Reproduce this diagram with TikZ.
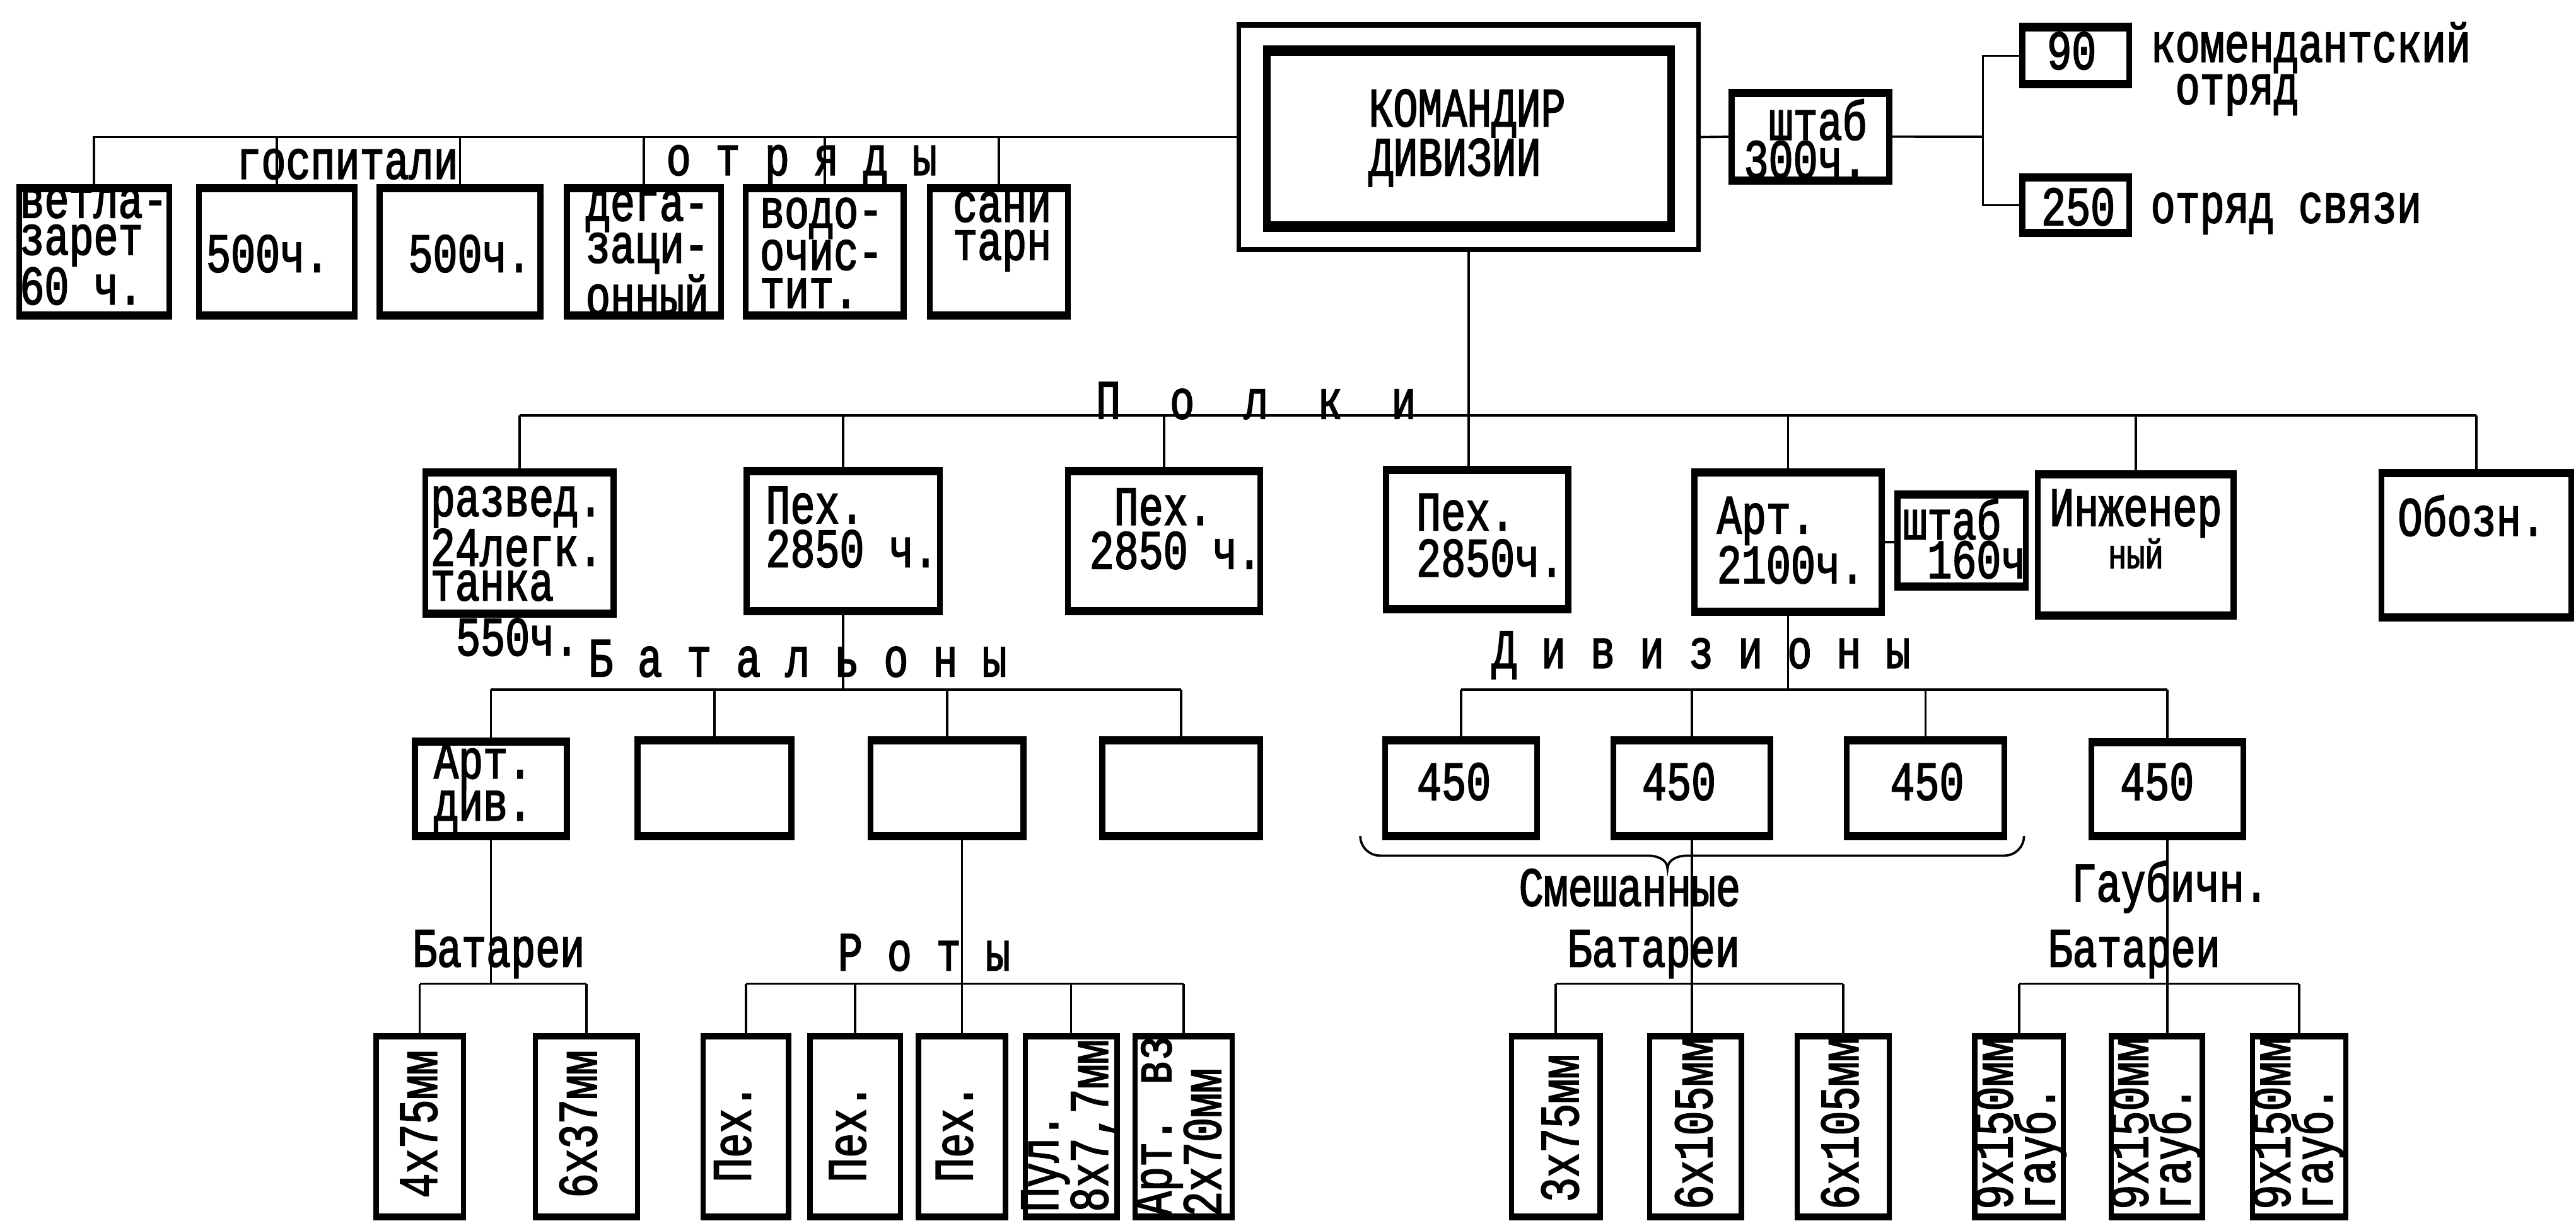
\documentclass[tikz,border=0pt]{standalone}
\usepackage{fontspec}
\newfontfamily\tw[FakeStretch=0.74,FakeBold=2]{Liberation Mono}
\usetikzlibrary{fit}
\tikzset{
  frame/.style n args={4}{draw, inner sep=0pt, outer sep=0pt, line width=#2, fit={#1},
    append after command={
      (\tikzlastnode.north west) edge[line width=#3, shorten <=#4, shorten >=#4] (\tikzlastnode.north east)
      (\tikzlastnode.south west) edge[line width=#3, shorten <=#4, shorten >=#4] (\tikzlastnode.south east)}},
  bx/.style={frame={#1}{1.8mm}{2.5mm}{-0.9mm}},
  rbx/.style={frame={#1}{1.6mm}{2.0mm}{-0.8mm}},
  obx/.style={frame={#1}{1.4mm}{1.7mm}{-0.7mm}},
  ibx/.style={frame={#1}{2.3mm}{3.2mm}{-1.15mm}},
  ln/.style={line width=0.7mm},
  tx/.style={font=\tw\fontsize{48pt}{#1}\selectfont, inner sep=0pt, align=left},
  tx/.default=38pt,
}
\newcommand\mybox[3]{\node[bx={#2 #3}] (#1) {};}
\newcommand\myrbox[3]{\node[rbx={#2 #3}] (#1) {};}
\begin{document}
\begin{tikzpicture}[x=0.5mm,y=-0.5mm]
\useasboundingbox[fill=white] (0,0) rectangle (1568,743.5);

% ---------- top row ----------
\mybox{vet}{(11.6,114.5)}{(103,192)}
\mybox{hosp1}{(121,114.5)}{(216,192)}
\mybox{hosp2}{(231,114.5)}{(329,192)}
\mybox{deg}{(345,114.5)}{(439,192)}
\mybox{vod}{(454,114.5)}{(550,192)}
\mybox{san}{(566,114.5)}{(650,192)}

\node[obx={(754,15) (1034,152)}] (cmdo) {};
\node[ibx={(771,31) (1017,138)}] (cmd) {};
\mybox{sh}{(1054,56.5)}{(1150,110)}
\mybox{b90}{(1231,16.5)}{(1296,51.4)}
\mybox{b250}{(1231,108)}{(1296,142)}
\coordinate (j) at (1207,83.3);

\draw[ln] (vet.north) |- (cmdo.west);
\foreach \n in {hosp1,hosp2,deg,vod,san} \draw[ln] (\n.north) -- (\n.north |- cmdo.west);
\draw[ln] (cmdo.east) -- (sh.west);
\draw[ln] (sh.east) -- (j);
\draw[ln] (b90.west) -| (j) |- (b250.west);

\node[tx=32pt] (tvet) at (57,150) {ветла-\\зарет\\60 ч.};
\node[tx] (th1) at (163,154.5) {500ч.};
\node[tx] (th2) at (286,154.5) {500ч.};
\node[tx=33pt] (tdeg) at (394,154) {дега-\\заци-\\онный};
\node[tx=33pt] (tvod) at (500,154) {водо-\\очис-\\тит.};
\node[tx=33pt] (tsan) at (610,141) {сани\\тарн};
\node[tx=35pt] (tcmd) at (893,84) {КОМАНДИР\\ДИВИЗИИ};
\node[tx=33pt, align=right] (tsh) at (1099,84.5) {штаб\\300ч.};
\node[tx] (t90) at (1261,31) {90};
\node[tx] (t250) at (1265,126) {250};
\node[tx=30pt, anchor=west] (tkom) at (1309,42) {комендантский\\\hphantom{к}отряд};
\node[tx, anchor=west] (tsv) at (1309,130) {отряд связи};
\node[tx] (lhosp) at (211.5,100) {госпитали};
\node[tx] (lotr) at (488,101) {о т р я д ы};

% ---------- regiments ----------
\mybox{rz}{(259,287.5)}{(373.5,373.5)}
\mybox{p1}{(454.5,287)}{(572,372)}
\mybox{p2}{(650,287)}{(767,372)}
\mybox{p3}{(843.7,286)}{(954.6,371)}
\mybox{art}{(1031.4,287.5)}{(1145.4,372.7)}
\mybox{sh2}{(1155,301)}{(1233,357)}
\mybox{inz}{(1240.4,289)}{(1359.5,375)}
\mybox{ob}{(1449.5,288)}{(1565,376)}

\coordinate (pl) at (0,253);
\draw[ln] (cmdo.south) -- (cmdo.south |- p3.north);
\draw[ln] (rz.north |- pl) -- (ob.north |- pl);
\foreach \n in {rz,p1,p2,art,inz,ob} \draw[ln] (\n.north) -- (\n.north |- pl);
\draw[ln] (art.east) -- (art.east -| sh2.west);

\node[tx, anchor=west] (lpol) at (667,244) {П~~о~~л~~к~~и};
\node[tx=30pt, anchor=west] (trz) at (262,331) {развед.\\24легк.\\танка};
\node[tx] (t550) at (315,388) {550ч.};
\node[tx, anchor=west] (tp1) at (466,321) {Пех.\\2850 ч.};
\node[tx, anchor=west] (tp2) at (663,322) {\hphantom{2}Пех.\\2850 ч.};
\node[tx=40pt, anchor=west] (tp3) at (862,326) {Пех.\\2850ч.};
\node[tx=36pt, anchor=west] (tart) at (1045,329) {Арт.\\2100ч.};
\node[tx=29pt, anchor=west] (tsh2) at (1158,328) {штаб\\\hphantom{ш}160ч};
\node[tx=28pt, align=center] (tinz) at (1300,322) {Инженер\\{\fontsize{36pt}{28pt}\selectfont ный}};
\node[tx] (tob) at (1504.5,314) {Обозн.};

% ---------- battalions / divisions ----------
\mybox{b1}{(252.6,451.5)}{(345,509)}
\mybox{b2}{(388,451)}{(481.7,509)}
\mybox{b3}{(530,451)}{(623,509)}
\mybox{b4}{(671,451)}{(767,509)}
\mybox{d1}{(843,451)}{(935.5,509)}
\mybox{d2}{(982,451)}{(1077.6,509)}
\mybox{d3}{(1124,451)}{(1220,509)}
\mybox{d4}{(1273,452)}{(1365.4,509)}

\coordinate (bl) at (0,420);
\draw[ln] (p1.south) -- (p1.south |- bl);
\draw[ln] (b1.north |- bl) -- (b4.north |- bl);
\foreach \n in {b1,b2,b3,b4} \draw[ln] (\n.north) -- (\n.north |- bl);
\draw[ln] (art.south) -- (art.south |- bl);
\draw[ln] (d1.north |- bl) -- (d4.north |- bl);
\foreach \n in {d1,d2,d3,d4} \draw[ln] (\n.north) -- (\n.north |- bl);

\node[tx, anchor=west] (lbat) at (358,401) {Б а т а л ь о н ы};
\node[tx, anchor=west] (ldiv) at (908,399) {Д и в и з и о н ы};
\node[tx=31pt, anchor=west] (tadiv) at (264,479) {Арт.\\див.};
\node[tx] (td1) at (885,476) {450};
\node[tx] (td2) at (1022,476) {450};
\node[tx] (td3) at (1173,476) {450};
\node[tx] (td4) at (1313,476) {450};

% brace
\coordinate (brL) at (828,509);
\coordinate (brM) at (1015,529);
\coordinate (brR) at (1232,509);
\draw[ln] (brL) to[out=-90,in=180] (840,521) -- (1003,521) to[out=0,in=90] (brM)
  to[out=90,in=180] (1027,521) -- (1220,521) to[out=0,in=-90] (brR);

% ---------- bottom row ----------
\myrbox{a1}{(229,631)}{(282,741)}
\myrbox{a2}{(326,631)}{(388,741)}
\myrbox{r1}{(428,631)}{(480,741)}
\myrbox{r2}{(493,631)}{(548,741)}
\myrbox{r3}{(559,631)}{(612,741)}
\myrbox{r4}{(624,631)}{(680,741)}
\myrbox{r5}{(691,631)}{(750,741)}
\myrbox{m1}{(920,631)}{(974,741)}
\myrbox{m2}{(1004,631)}{(1060,741)}
\myrbox{m3}{(1094,631)}{(1150,741)}
\myrbox{g1}{(1202,631)}{(1256,741)}
\myrbox{g2}{(1285,631)}{(1340.6,741)}
\myrbox{g3}{(1371,631)}{(1428,741)}

\coordinate (cl) at (0,599);
\draw[ln] (b1.south) -- (b1.south |- cl);
\draw[ln] (a1.north |- cl) -- (a2.north |- cl);
\foreach \n in {a1,a2} \draw[ln] (\n.north) -- (\n.north |- cl);
\draw[ln] (b3.south -| r3.north) -- (r3.north);
\draw[ln] (r1.north |- cl) -- (r5.north |- cl);
\foreach \n in {r1,r2,r4,r5} \draw[ln] (\n.north) -- (\n.north |- cl);
\draw[ln] (d2.south) -- (d2.south |- m2.north);
\draw[ln] (m1.north |- cl) -- (m3.north |- cl);
\foreach \n in {m1,m3} \draw[ln] (\n.north) -- (\n.north |- cl);
\draw[ln] (d4.south) -- (d4.south |- g2.north);
\draw[ln] (g1.north |- cl) -- (g3.north |- cl);
\foreach \n in {g1,g3} \draw[ln] (\n.north) -- (\n.north |- cl);

\node[tx] (lbat1) at (303.5,581) {Батареи};
\node[tx] (lrot) at (562.5,580) {Р о т ы};
\node[tx] (lsm) at (992,540.5) {Смешанные};
\node[tx] (lbat2) at (1006.5,581) {Батареи};
\node[tx] (lgau) at (1321,540) {Гаубичн.};
\node[tx] (lbat3) at (1299,581) {Батареи};

\node[tx, rotate=90] (ta1) at (255,684.5) {4х75мм};
\node[tx, rotate=90] (ta2) at (352,684.5) {6х37мм};
\node[tx, rotate=90] (tr1) at (446,690) {Пех.};
\node[tx, rotate=90] (tr2) at (516,690) {Пех.};
\node[tx, rotate=90] (tr3) at (581,690) {Пех.};
\node[tx=30pt, rotate=90] (tr4) at (651,685.5) {Пул.\\8х7,7мм};
\node[tx=30pt, rotate=90] (tr5) at (717,685.5) {Арт. вз\\2х70мм};
\node[tx, rotate=90] (tm1) at (949.6,687) {3х75мм};
\node[tx, rotate=90] (tm2) at (1031,684) {6х105мм};
\node[tx, rotate=90] (tm3) at (1120,684) {6х105мм};
\node[tx=31pt, rotate=90] (tg1) at (1230,684) {9х150мм\\гауб.};
\node[tx=31pt, rotate=90] (tg2) at (1312.5,684) {9х150мм\\гауб.};
\node[tx=31pt, rotate=90] (tg3) at (1399,684) {9х150мм\\гауб.};
\end{tikzpicture}
\end{document}
